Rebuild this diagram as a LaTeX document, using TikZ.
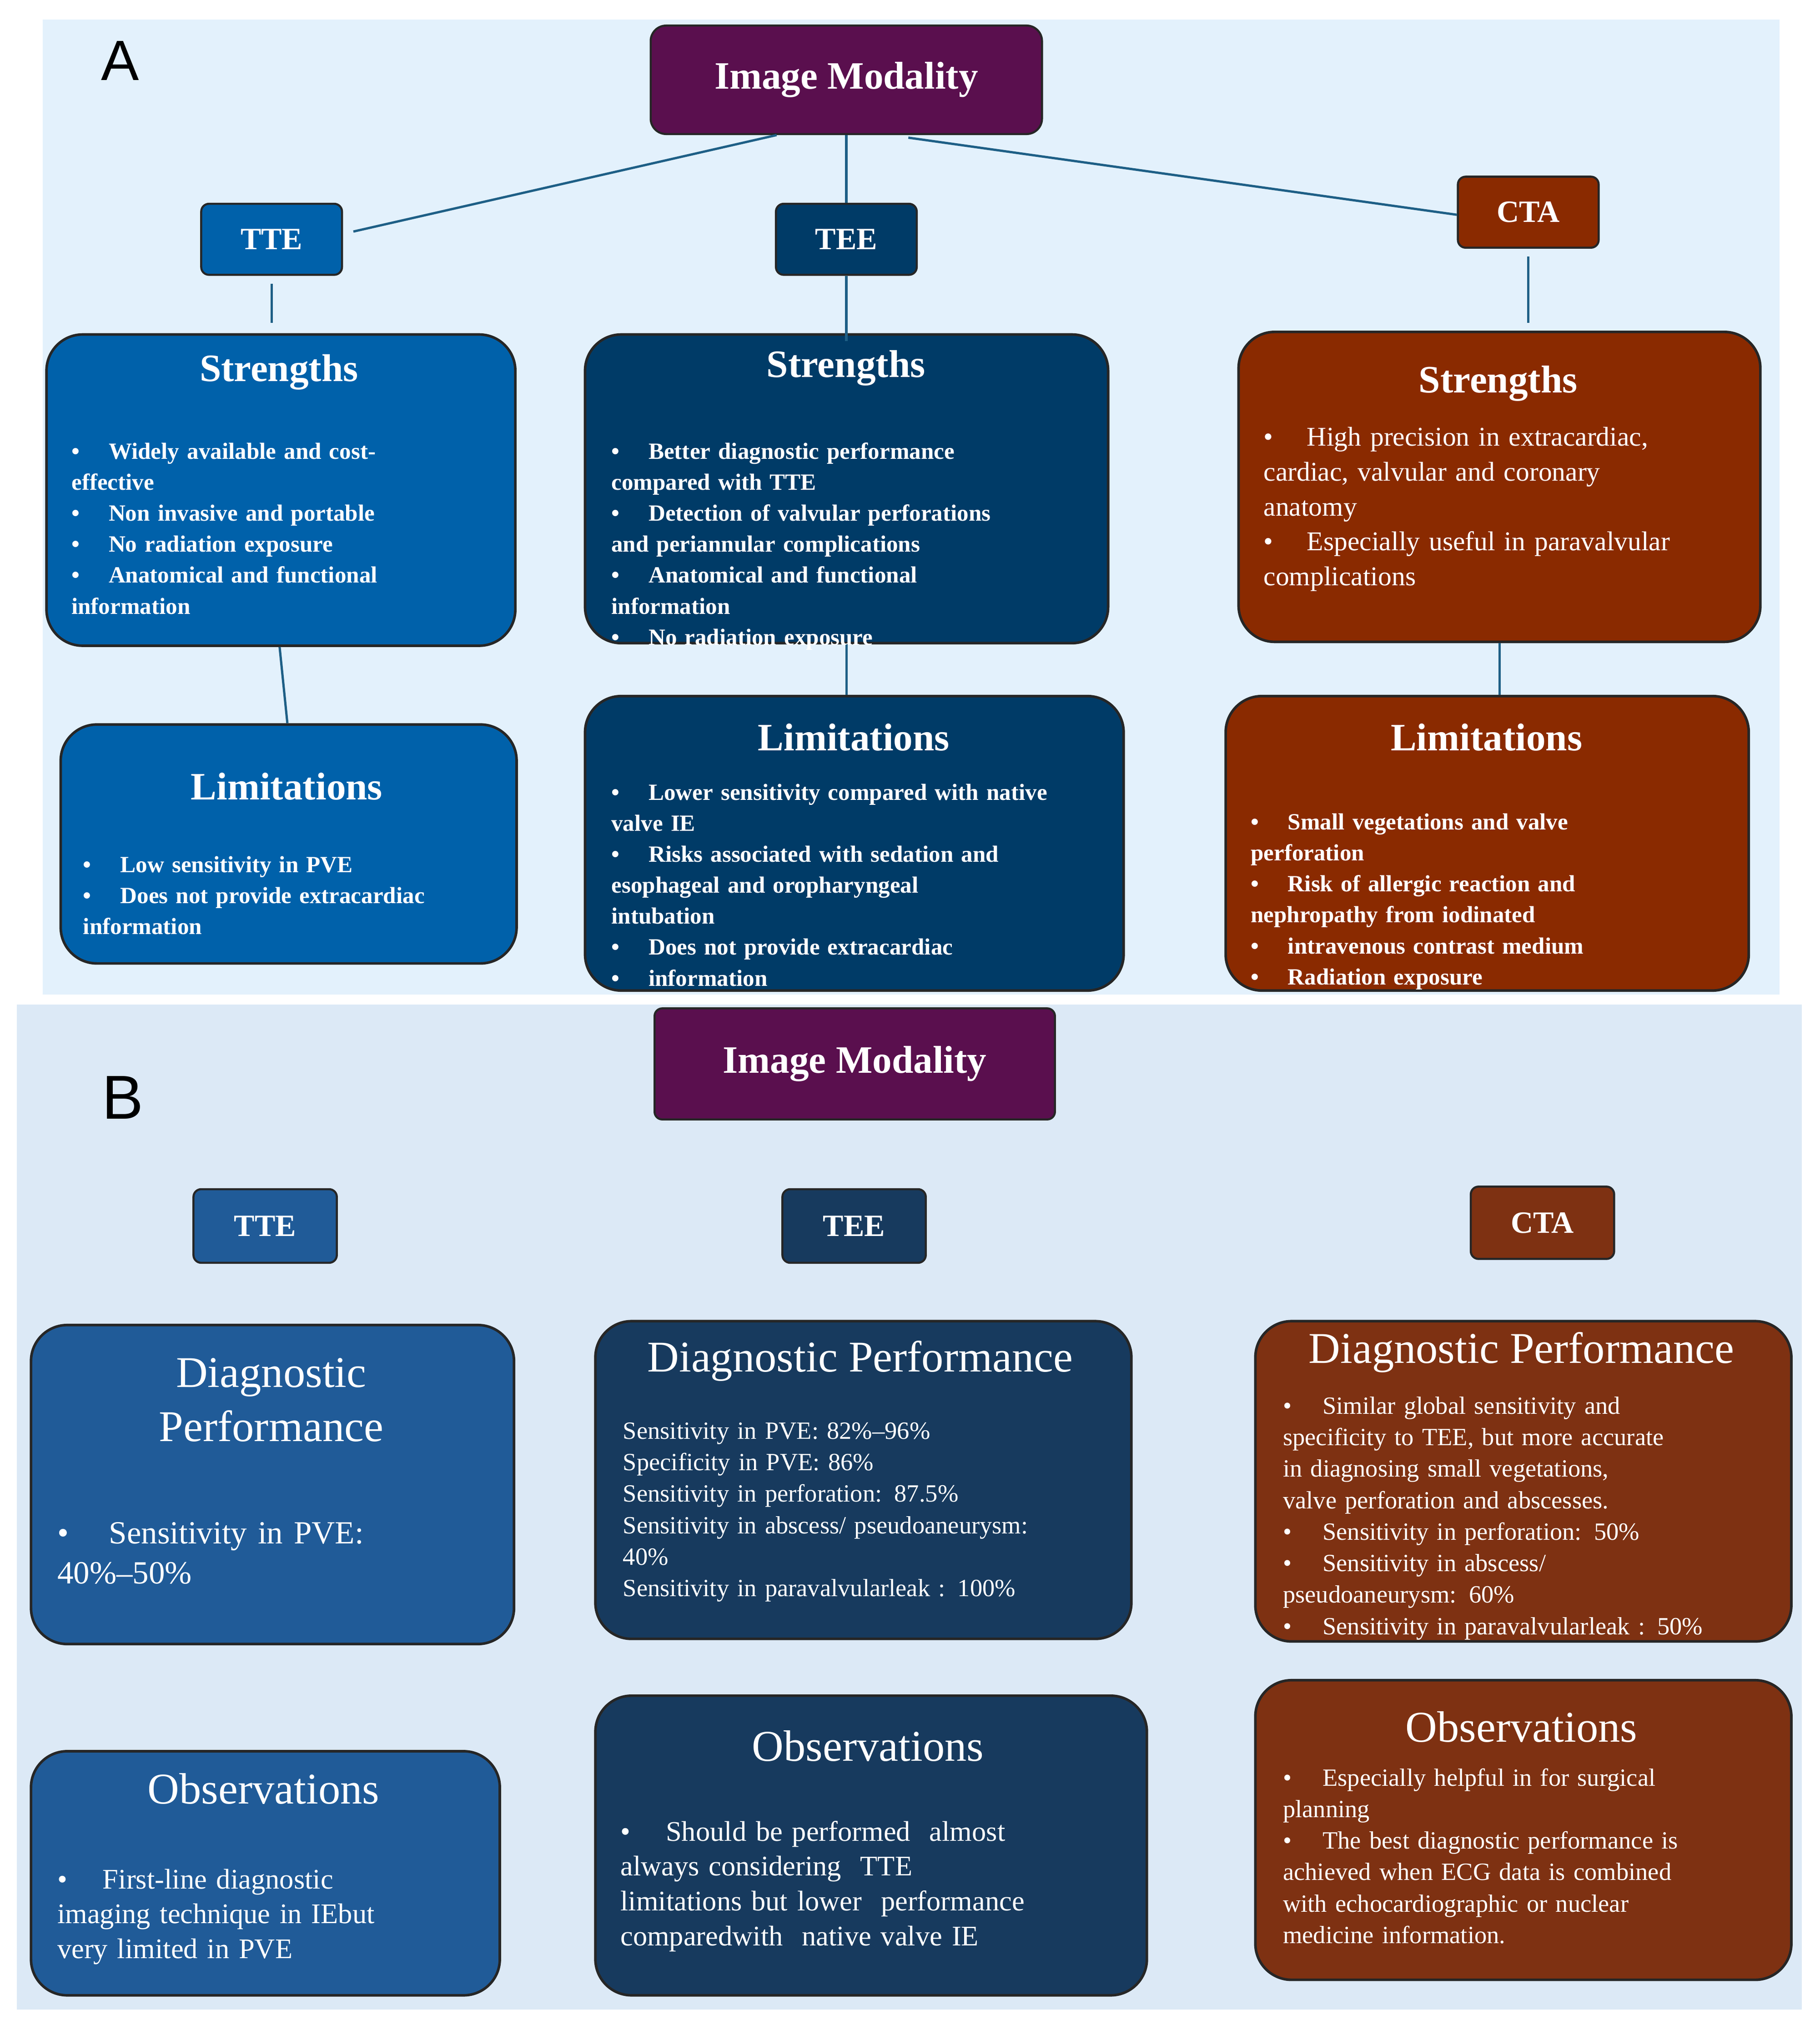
\documentclass[tikz,border=0pt]{standalone}
\usepackage{fontspec}
\setmainfont{Liberation Serif}
\setsansfont{Liberation Sans}
\definecolor{bgA}{HTML}{E3F1FC}
\definecolor{bgB}{HTML}{DCE9F6}
\definecolor{purp}{HTML}{5A0F4E}
\definecolor{tteA}{HTML}{0061AA}
\definecolor{teeA}{HTML}{003B67}
\definecolor{ctaA}{HTML}{8A2A00}
\definecolor{tteB}{HTML}{205B98}
\definecolor{teeB}{HTML}{173A5E}
\definecolor{ctaB}{HTML}{7E3112}
\definecolor{lineC}{HTML}{1E5F86}
\newcommand{\bi}[1]{\par\hangindent=1.6em\hangafter=1\noindent\makebox[1.6em][l]{\textbullet}#1}
\newcommand{\mybox}[6]{\node[#6, anchor=north west, minimum width={(#4-#2)*0.5pt}, minimum height={(#5-#3)*0.5pt}] (#1) at (#2,#3) {};}
\begin{document}
\begin{tikzpicture}[x=0.5pt,y=-0.5pt,
  rbox/.style={draw=black!85, line width=1pt, rounded corners=14pt, inner sep=0pt},
  sbox/.style={draw=black!85, line width=0.8pt, rounded corners=3pt, inner sep=0pt},
  ttl/.style={text=white, font=\bfseries\fontsize{15}{18}\selectfont},
  lab/.style={text=white, font=\bfseries\fontsize{12}{14}\selectfont},
  bodyA/.style={text=white, anchor=north west, align=left, inner sep=0pt, font=\bfseries\fontsize{9}{12}\selectfont},
  ttlB/.style={text=white, font=\fontsize{17}{21}\selectfont, align=center},
  bodyB/.style={text=white, anchor=north west, align=left, inner sep=0pt, font=\fontsize{10}{12}\selectfont},
  conn/.style={draw=lineC, line width=0.9pt}]
\useasboundingbox (0,0) rectangle (1409,1568);
\fill[white] (0,0) rectangle (1409,1568);
\fill[bgA] (33,15) rectangle (1378,770);
\fill[bgB] (13,778) rectangle (1395,1556);
\node[font=\sffamily\fontsize{22}{24}\selectfont] (labA) at (93,47) {A};
\node[font=\sffamily\fontsize{24}{26}\selectfont] (labB) at (95,850) {B};
% ---------- Panel A
\mybox{imA}{503}{19}{806}{103}{sbox,fill=purp,rounded corners=6pt}
\node[ttl] at (imA) {Image Modality};
\mybox{tteAn}{155}{157}{264}{212}{sbox,fill=tteA}
\node[lab] at (tteAn) {TTE};
\mybox{teeAn}{600}{157}{709}{212}{sbox,fill=teeA}
\node[lab] at (teeAn) {TEE};
\mybox{ctaAn}{1128}{136}{1237}{191}{sbox,fill=ctaA}
\node[lab] at (ctaAn) {CTA};
\mybox{s1}{35}{258}{398}{499}{rbox,fill=tteA}
\mybox{s2}{452}{258}{857}{497}{rbox,fill=teeA}
\mybox{s3}{958}{256}{1362}{496}{rbox,fill=ctaA}
\mybox{l1}{46}{560}{399}{745}{rbox,fill=tteA}
\mybox{l2}{452}{538}{869}{766}{rbox,fill=teeA}
\mybox{l3}{948}{538}{1353}{766}{rbox,fill=ctaA}
\draw[conn] ([xshift=-27pt]imA.south) -- ([xshift=4pt,yshift=3pt]tteAn.east);
\draw[conn] (imA.south) -- (teeAn.north);
\draw[conn] ([xshift=24pt,yshift=-1pt]imA.south) -- ([yshift=-1pt]ctaAn.west);
\draw[conn] ([yshift=-3pt]tteAn.south) -- ([xshift=0pt,yshift=4pt]s1.north -| tteAn.south);
\draw[conn] (teeAn.south) -- ([yshift=-3pt]s2.north -| teeAn.south);
\draw[conn] ([yshift=-3pt]ctaAn.south) -- ([yshift=3pt]s3.north -| ctaAn.south);
\draw[conn] ([xshift=-0.5pt]s1.south) -- ([xshift=-0.5pt]l1.north);
\draw[conn] (s2.south) -- (l2.north -| s2.south);
\draw[conn] (s3.south) -- (l3.north -| s3.south);
\node[ttl] at (216,288) {Strengths};
\node[ttl] at (655,285) {Strengths};
\node[ttl] at (1160,297) {Strengths};
\node[bodyA, text width=170pt] at (55,331) {\bi{Widely available and cost-\\effective}\bi{Non invasive and portable}\bi{No radiation exposure}\bi{Anatomical and functional\\information}};
\node[bodyA, text width=190pt] at (473,331) {\bi{Better diagnostic performance\\compared with TTE}\bi{Detection of valvular perforations\\and periannular complications}\bi{Anatomical and functional\\information}\bi{No radiation exposure}};
\node[bodyA, text width=190pt, font=\fontsize{10.5}{13.5}\selectfont] at (978,318) {\bi{High precision in extracardiac,\\cardiac, valvular and coronary\\anatomy}\bi{Especially useful in paravalvular\\complications}};
\node[ttl] at (222,609) {Limitations};
\node[ttl] at (661,571) {Limitations};
\node[ttl] at (1151,571) {Limitations};
\node[bodyA, text width=170pt] at (64,651) {\bi{Low sensitivity in PVE}\bi{Does not provide extracardiac\\information}};
\node[bodyA, text width=200pt] at (473,595) {\bi{Lower sensitivity compared with native\\valve IE}\bi{Risks associated with sedation and\\esophageal and oropharyngeal\\intubation}\bi{Does not provide extracardiac}\bi{information}};
\node[bodyA, text width=200pt] at (968,618) {\bi{Small vegetations and valve\\perforation}\bi{Risk of allergic reaction and\\nephropathy from iodinated}\bi{intravenous contrast medium}\bi{Radiation exposure}};
% ---------- Panel B
\mybox{imB}{506}{780}{816}{866}{sbox,fill=purp}
\node[ttl] at (imB) {Image Modality};
\mybox{tteBn}{149}{920}{260}{977}{sbox,fill=tteB}
\node[lab] at (tteBn) {TTE};
\mybox{teeBn}{605}{920}{716}{977}{sbox,fill=teeB}
\node[lab] at (teeBn) {TEE};
\mybox{ctaBn}{1138}{918}{1249}{974}{sbox,fill=ctaB}
\node[lab] at (ctaBn) {CTA};
\mybox{d1}{23}{1025}{397}{1272}{rbox,fill=tteB}
\mybox{d2}{460}{1022}{875}{1268}{rbox,fill=teeB}
\mybox{d3}{971}{1022}{1386}{1270}{rbox,fill=ctaB}
\mybox{o1}{23}{1355}{386}{1544}{rbox,fill=tteB}
\mybox{o2}{460}{1312}{887}{1544}{rbox,fill=teeB}
\mybox{o3}{971}{1300}{1386}{1532}{rbox,fill=ctaB}
\node[ttlB] at (210,1084) {Diagnostic\\Performance};
\node[ttlB] at (666,1054) {Diagnostic Performance};
\node[ttlB] at (1178,1047) {Diagnostic Performance};
\node[bodyB, text width=170pt, font=\fontsize{12.5}{15.5}\selectfont] at (44,1164) {\bi{Sensitivity in PVE:\\40\%--50\%}};
\node[bodyB, text width=200pt, font=\fontsize{9.6}{12.2}\selectfont] at (482,1101) {Sensitivity in PVE: 82\%--96\%\\Specificity in PVE: 86\%\\Sensitivity in perforation: 87.5\%\\Sensitivity in abscess/ pseudoaneurysm:\\40\%\\Sensitivity in paravalvularleak : 100\%};
\node[bodyB, text width=200pt, font=\fontsize{9.6}{12.2}\selectfont] at (993,1070) {\bi{Similar global sensitivity and\\specificity to TEE, but more accurate\\in diagnosing small vegetations,\\valve perforation and abscesses.}\bi{Sensitivity in perforation: 50\%}\bi{Sensitivity in abscess/\\pseudoaneurysm: 60\%}\bi{Sensitivity in paravalvularleak : 50\%}};
\node[ttlB] at (204,1385) {Observations};
\node[ttlB] at (672,1352) {Observations};
\node[ttlB] at (1178,1337) {Observations};
\node[bodyB, text width=170pt, font=\fontsize{11}{13.5}\selectfont] at (44,1435) {\bi{First-line diagnostic\\imaging technique in IEbut\\very limited in PVE}};
\node[bodyB, text width=200pt, font=\fontsize{11}{13.5}\selectfont] at (480,1398) {\bi{Should be performed\ \ almost\\always considering\ \ TTE\\limitations but lower\ \ performance\\comparedwith\ \ native valve IE}};
\node[bodyB, text width=200pt, font=\fontsize{9.6}{12.2}\selectfont] at (993,1358) {\bi{Especially helpful in for surgical\\planning}\bi{The best diagnostic performance is\\achieved when ECG data is combined\\with echocardiographic or nuclear\\medicine information.}};
\end{tikzpicture}
\end{document}
